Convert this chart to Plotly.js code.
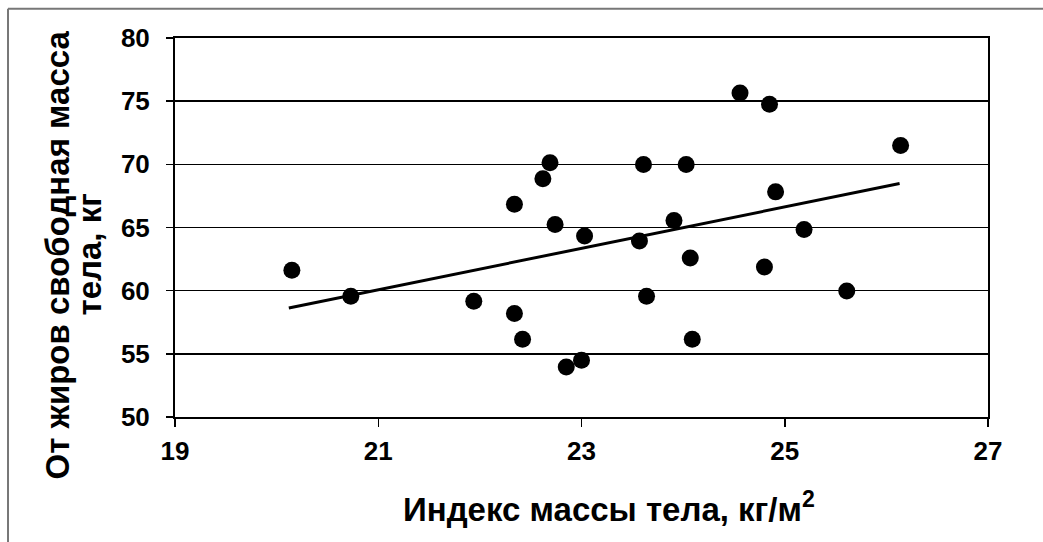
<!DOCTYPE html>
<html>
<head>
<meta charset="utf-8">
<script src="https://cdn.plot.ly/plotly-3.0.1.min.js"></script>
<style>
  html, body { margin: 0; padding: 0; background: #fff; }
  #chart { width: 1043px; height: 542px; }
</style>
</head>
<body>
<div id="chart"></div>
<script>
// Body mass index, kg/m2
var bmi = [20.15, 20.73, 21.94, 22.34, 22.42, 22.34, 22.62, 22.69, 22.74, 22.85, 23.00, 23.03, 23.61,
           23.57, 23.64, 23.91, 24.03, 24.07, 24.09, 24.56, 24.85, 24.91, 24.80, 25.19, 25.61, 26.14];
// Fat-free body mass, kg
var ffm = [61.62, 59.56, 59.16, 58.19, 56.15, 66.84, 68.85, 70.13, 65.23, 53.96, 54.49, 64.33, 69.98,
           63.94, 59.56, 65.55, 69.98, 62.59, 56.15, 75.65, 74.76, 67.82, 61.88, 64.84, 59.98, 71.49];
// Linear trend line endpoints
var trendX = [20.12, 26.13];
var trendY = [58.63, 68.48];

var xTicks = [19, 21, 23, 25, 27];
var yTicks = [50, 55, 60, 65, 70, 75, 80];

var xTitle = 'Индекс массы тела, кг/м<sup>2</sup>';
var yTitle1 = 'От жиров свободная масса';
var yTitle2 = 'тела, кг';

var boldFont = 'Liberation Sans, Arial, sans-serif';

var traces = [
  {
    x: trendX, y: trendY, type: 'scatter', mode: 'lines',
    line: {color: '#000', width: 3}, hoverinfo: 'skip', showlegend: false
  },
  {
    x: bmi, y: ffm, type: 'scatter', mode: 'markers',
    marker: {color: '#000', size: 17}, showlegend: false
  }
];

var layout = {
  width: 1043, height: 542,
  margin: {l: 175, r: 55, t: 38, b: 125},
  paper_bgcolor: '#fff', plot_bgcolor: '#fff',
  font: {family: boldFont, color: '#000', weight: 'bold'},
  xaxis: {
    range: [19, 27], tickvals: xTicks, ticktext: xTicks.map(String),
    showgrid: false, zeroline: false,
    showline: true, linecolor: '#000', linewidth: 2, mirror: true,
    ticks: 'outside', ticklen: 8, tickwidth: 1.5, tickcolor: '#000',
    ticklabelstandoff: 2,
    tickfont: {family: boldFont, size: 26, color: '#000', weight: 'bold'}
  },
  yaxis: {
    range: [50, 80], tickvals: yTicks, ticktext: yTicks.map(String),
    showgrid: true, gridcolor: '#000', gridwidth: 1.6, zeroline: false,
    showline: true, linecolor: '#000', linewidth: 2, mirror: true,
    ticks: 'outside', ticklen: 7, tickwidth: 1.5, tickcolor: '#000',
    ticklabelstandoff: 11,
    tickfont: {family: boldFont, size: 26, color: '#000', weight: 'bold'}
  },
  annotations: [
    {text: xTitle, xref: 'paper', yref: 'paper', x: 0.5, y: 0, xshift: 27, yshift: -90,
     xanchor: 'center', yanchor: 'middle', showarrow: false,
     font: {family: boldFont, size: 33, color: '#000', weight: 'bold'}},
    {text: yTitle1, xref: 'paper', yref: 'paper', x: 0, y: 0.5, xshift: -118, yshift: -28,
     xanchor: 'center', yanchor: 'middle', textangle: -90, showarrow: false,
     font: {family: boldFont, size: 33, color: '#000', weight: 'bold'}},
    {text: yTitle2, xref: 'paper', yref: 'paper', x: 0, y: 0.5, xshift: -86, yshift: -27,
     xanchor: 'center', yanchor: 'middle', textangle: -90, showarrow: false,
     font: {family: boldFont, size: 33, color: '#000', weight: 'bold'}}
  ],
  shapes: [
    {type: 'line', xref: 'paper', yref: 'paper', x0: -0.2054, x1: 1.08, y0: 1.077, y1: 1.077,
     line: {color: '#777', width: 2}},
    {type: 'line', xref: 'paper', yref: 'paper', x0: -0.2054, x1: -0.2054, y0: 1.077, y1: -0.35,
     line: {color: '#777', width: 2}}
  ]
};

Plotly.newPlot('chart', traces, layout, {staticPlot: true, displayModeBar: false});
</script>
</body>
</html>
